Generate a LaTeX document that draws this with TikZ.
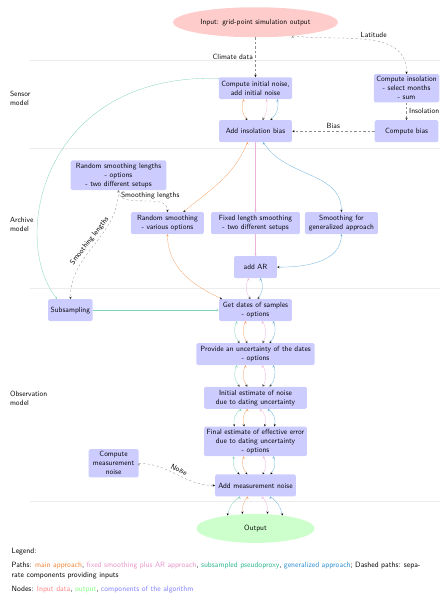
\documentclass[tikz,border=0pt]{standalone}
\usepackage{amsmath}
\usepackage{tikz}
\usetikzlibrary{positioning}
\usetikzlibrary{arrows}
\usetikzlibrary{shapes.geometric}
\renewcommand{\familydefault}{\sfdefault}
\definecolor{mainc}{RGB}{240,130,50}
\definecolor{fixc}{RGB}{230,145,200}
\definecolor{subc}{RGB}{40,180,140}
\definecolor{genc}{RGB}{40,140,210}

\begin{document}
\begin{tikzpicture}[
            > = stealth, % arrow head style
            node distance = 2.05cm, % distance between nodes
            thin % line style
        ]

        \tikzstyle{box}=[
            draw = none,
            fill = blue!20,
            rounded corners = 2pt,
            align = center,
            minimum height = 1.03cm
        ]
        \tikzstyle{wide}=[minimum width = 3.43cm]
        \tikzstyle{feed}=[dashed, draw = black!45]
        \tikzstyle{sep}=[gray!15, line width = 0.6pt]
        % path colours
        \tikzstyle{mainp}=[draw = mainc!75]
        \tikzstyle{fixp}=[draw = fixc!70]
        \tikzstyle{subp}=[draw = subc!60]
        \tikzstyle{genp}=[draw = genc!70]

        \useasboundingbox (-12.0085,1.046) rectangle (9.0005,-27.154);

        % sections
        \draw[sep] (-10.62,-1.79) -- (8.65,-1.79);
        \draw[sep] (-10.62,-5.92) -- (8.65,-5.92);
        \draw[sep] (-10.62,-12.50) -- (8.65,-12.50);
        \draw[sep] (-10.62,-22.51) -- (8.65,-22.51);

        \node[anchor=west, align=left] (sensor) at (-11.66,-3.57) {Sensor\\ model};
        \node[anchor=west, align=left] (archive) at (-11.66,-9.49) {Archive\\ model};
        \node[anchor=west, align=left] (observation) at (-11.66,-17.67) {Observation\\ model};

        % input
        \node[ellipse, fill=red!20, minimum width=7.76cm, minimum height=1.41cm] (IN) at (0,0) {Input: grid-point simulation output};

        % sensor model
        \node[box, wide] (CIN) [below of=IN, node distance=3.1cm] {Compute initial noise,\\ add initial noise};
        \node[box, minimum width=3cm] (CI) [right of=CIN, node distance=7.1cm] {Compute insolation\\ - select months\\ - sum};
        \node[box, wide] (AIB) [below of=CIN, node distance=2.02cm] {Add insolation bias};
        \node[box, minimum width=3cm] (CB) [below of=CI, node distance=2.02cm] {Compute bias};

        \path[->, feed] (IN) edge node[left] {Climate data} (CIN);
        \path[->, feed] (IN.-20) edge[out=-8, in=90] node[above, pos=0.55] {Latitude} (CI.north);
        \path[->, feed] (CI) edge node[right] {Insolation} (CB);
        \path[->, feed] (CB) edge node[above] {Bias} (AIB);

        \path[->, mainp] ([xshift=-0.56cm]CIN.south) edge[bend right=30] ([xshift=-0.38cm]AIB.north);
        \path[->, fixp] ([xshift=0.52cm]CIN.south) edge[bend left=20] ([xshift=0.33cm]AIB.north);
        \path[->, genp] ([xshift=1.03cm]CIN.south) edge[bend left=30] ([xshift=0.7cm]AIB.north);

        % archive model
        \node[box, minimum width=4.18cm] (FLS) [below of=AIB, node distance=4.32cm] {Fixed length smoothing\\ - two different setups};
        \node[box, wide] (RS) [left of=FLS, node distance=4.14cm] {Random smoothing\\ - various options};
        \node[box, wide] (SGA) [right of=FLS, node distance=4.04cm] {Smoothing for\\ generalized approach};
        \node[box, minimum width=4.5cm] (RSL) at (-6.44,-7.19) {Random smoothing lengths\\ - options\\ - two different setups};
        \node[box, minimum width=2.02cm] (AR) [below of=FLS, node distance=2.07cm] {add AR};

        \path[->, mainp] ([xshift=-0.38cm]AIB.south) edge[out=-112, in=40] ([xshift=0.75cm]RS.north);
        \draw[->, fixp] (AIB) -- (FLS);
        \path[->, genp] ([xshift=0.38cm]AIB.south) edge[out=-60, in=90] (SGA.north);
        \draw[->, fixp] (FLS) -- (AR);
        \path[->, genp] (SGA.south) edge[out=-90, in=0] (AR.east);

        \path[->, feed] (RSL.south) edge[out=-90, in=90] node[above, pos=0.6] {Smoothing lengths} (RS.north);

        % observation model
        \node[box, wide] (GD) [below of=AR, node distance=2.02cm] {Get dates of samples\\ - options};
        \node[box] (SUB) [left of=GD, node distance=8.7cm] {Subsampling};
        \node[box, minimum width=5.55cm] (PU) [below of=GD, node distance=2.07cm] {Provide an uncertainty of the dates\\ - options};
        \node[box, minimum width=4.84cm] (IE) [below of=PU] {Initial estimate of noise\\ due to dating uncertainty};
        \node[box, minimum width=4.84cm] (FE) [below of=IE] {Final estimate of effective error\\ due to dating uncertainty\\ - options};
        \node[box, minimum width=3.8cm] (AMN) [below of=FE, node distance=2.07cm] {Add measurement noise};
        \node[box, minimum width=2.35cm] (CMN) at (-6.67,-20.73) {Compute\\ measurement\\ noise};

        \path[->, feed] (RSL.south) edge[out=-90, in=90] node[above, sloped] {Smoothing lengths} (SUB.north);

        \draw[->, subp] (CIN.165) .. controls +(-8.37cm,0.24cm) and +(-2.21cm,2.77cm) .. (SUB.140);
        \draw[->, subp] (SUB) -- (GD);
        \path[->, mainp] (RS.south) edge[out=-90, in=155] ([xshift=0.15cm]GD.north west);
        \path[->, fixp] ([xshift=-0.33cm]AR.south) edge[bend right=30] ([xshift=-0.24cm]GD.north);
        \path[->, genp] ([xshift=0.24cm]AR.south) edge[bend left=30] ([xshift=0.1cm]GD.north);

        \path[->, subp] ([xshift=-0.89cm]GD.south) edge[bend right=30] ([xshift=-0.75cm]PU.north);
        \path[->, mainp] ([xshift=-0.47cm]GD.south) edge[bend right=30] ([xshift=-0.38cm]PU.north);
        \path[->, fixp] ([xshift=0.33cm]GD.south) edge[bend left=30] ([xshift=0.33cm]PU.north);
        \path[->, genp] ([xshift=0.85cm]GD.south) edge[bend left=30] ([xshift=0.66cm]PU.north);

        \path[->, subp] ([xshift=-0.89cm]PU.south) edge[bend right=30] ([xshift=-0.75cm]IE.north);
        \path[->, mainp] ([xshift=-0.47cm]PU.south) edge[bend right=30] ([xshift=-0.38cm]IE.north);
        \path[->, fixp] ([xshift=0.33cm]PU.south) edge[bend left=30] ([xshift=0.33cm]IE.north);
        \path[->, genp] ([xshift=0.85cm]PU.south) edge[bend left=30] ([xshift=0.66cm]IE.north);

        \path[->, subp] ([xshift=-0.7cm]IE.south) edge[bend right=30] ([xshift=-0.99cm]FE.north);
        \path[->, mainp] ([xshift=-0.38cm]IE.south) edge[bend right=30] ([xshift=-0.52cm]FE.north);
        \path[->, fixp] ([xshift=0.24cm]IE.south) edge[bend left=30] ([xshift=0.42cm]FE.north);
        \path[->, genp] ([xshift=0.61cm]IE.south) edge[bend left=30] ([xshift=0.89cm]FE.north);

        \path[->, subp] ([xshift=-1.03cm]FE.south) edge[bend right=30] ([xshift=-0.75cm]AMN.north);
        \path[->, mainp] ([xshift=-0.56cm]FE.south) edge[bend right=30] ([xshift=-0.38cm]AMN.north);
        \path[->, fixp] ([xshift=0.38cm]FE.south) edge[bend left=30] ([xshift=0.33cm]AMN.north);
        \path[->, genp] ([xshift=0.85cm]FE.south) edge[bend left=30] ([xshift=0.7cm]AMN.north);

        \path[->, feed] (CMN.east) edge[out=0, in=180] node[above, sloped] {Noise} (AMN.west);

        % output
        \node[ellipse, fill=green!20, minimum width=5.55cm, minimum height=1.36cm] (OUT) [below of=AMN, node distance=2.02cm] {Output};

        \path[->, subp] ([xshift=-0.75cm]AMN.south) edge[bend right=20] ([xshift=-1.32cm, yshift=-0.08cm]OUT.north);
        \path[->, mainp] ([xshift=-0.38cm]AMN.south) edge[bend right=20] ([xshift=-0.61cm]OUT.north);
        \path[->, fixp] ([xshift=0.33cm]AMN.south) edge[bend left=20] ([xshift=0.56cm]OUT.north);
        \path[->, genp] ([xshift=0.7cm]AMN.south) edge[bend left=20] ([xshift=1.27cm, yshift=-0.08cm]OUT.north);

        % legend
        \node[anchor=north west, inner sep=0pt, text width=19.22cm, align=justify, font=\fontsize{10.25pt}{12.4pt}\selectfont] (legend) at (-11.47,-24.72) {Legend:\par\vspace{6.5pt}
            Paths: \textcolor{mainc}{main approach}, \textcolor{fixc}{fixed smoothing plus AR approach}, \textcolor{subc}{subsampled pseudoproxy}, \textcolor{genc}{generalized approach}; Dashed paths: sepa-\linebreak rate components providing inputs\par\vspace{6.5pt}
            Nodes: \textcolor{red!50}{Input data}, \textcolor{green!50}{output}, \textcolor{blue!50}{components of the algorithm}};

\end{tikzpicture}
\end{document}
